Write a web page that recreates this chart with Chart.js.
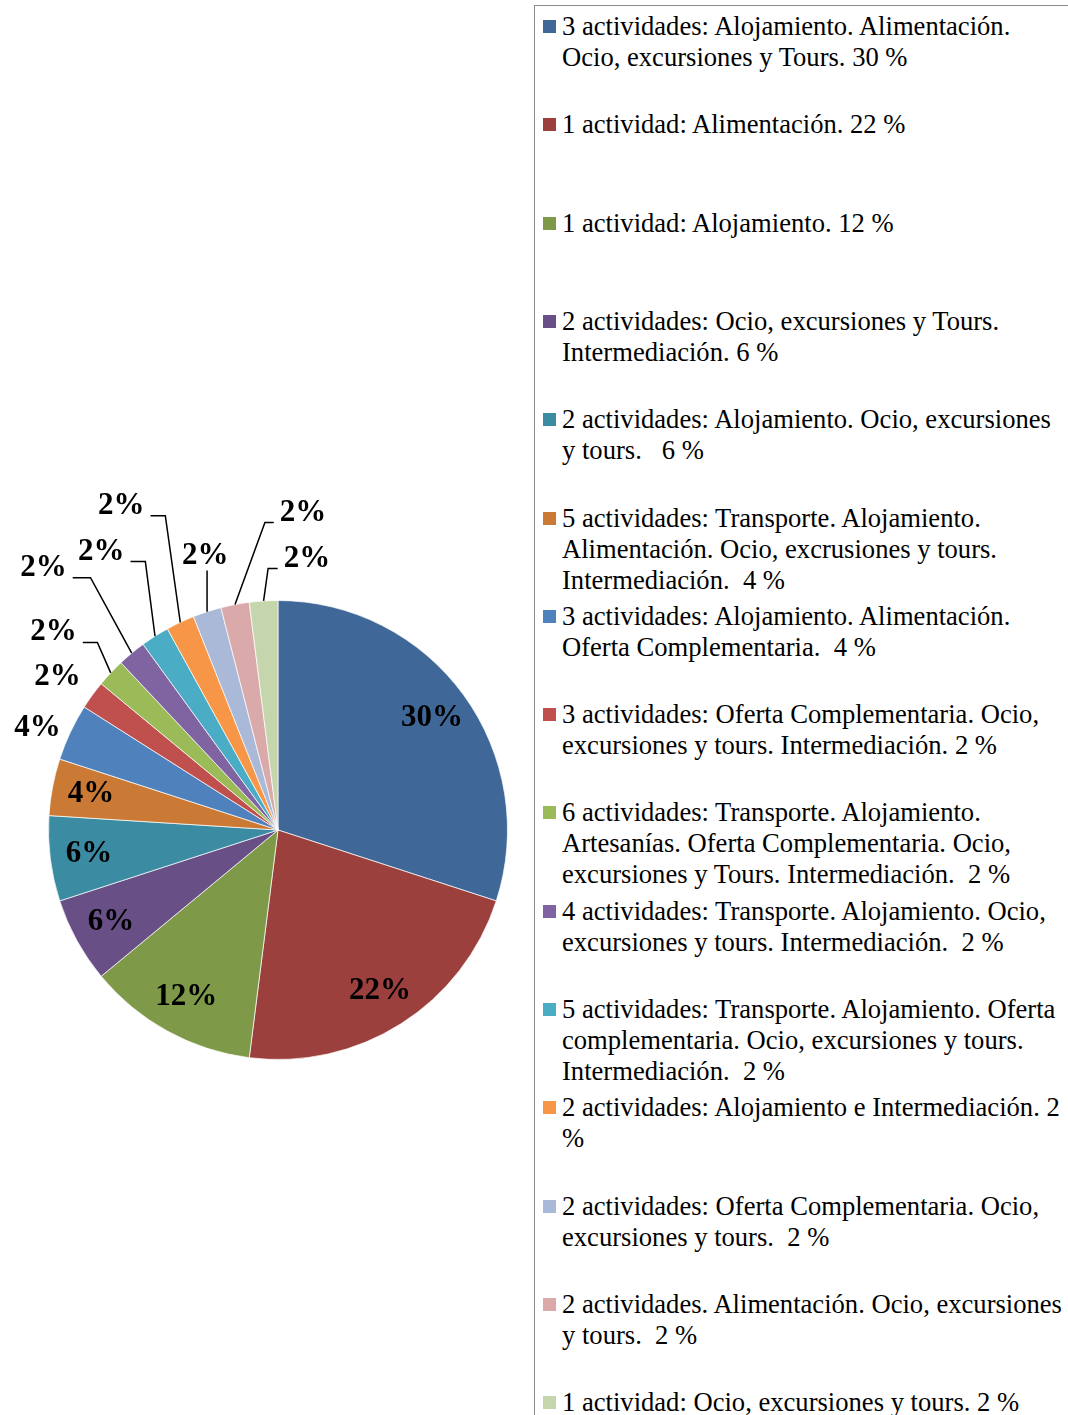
<!DOCTYPE html>
<html>
<head>
<meta charset="utf-8">
<script src="https://cdn.jsdelivr.net/npm/chart.js@4.4.0/dist/chart.umd.min.js"></script>
<style>
  html, body { margin: 0; padding: 0; background: #fff; }
  body { width: 1068px; height: 1415px; position: relative; overflow: hidden; font-family: "Liberation Serif", "Times New Roman", serif; }
  #pieBox { position: absolute; left: 0; top: 480px; width: 534px; height: 600px; }
  #legend { position: absolute; left: 534px; top: 5px; width: 580px; height: 1460px; border: 1px solid #8c8c8c; box-sizing: border-box; }
  .leg-item { position: absolute; left: 0; right: 0; }
  .leg-box { position: absolute; left: 8px; top: 9px; width: 13px; height: 13px; }
  .leg-text { position: absolute; left: 27px; top: 0; font-size: 26.6px; line-height: 31px; color: #000; white-space: pre; }
</style>
</head>
<body>
<div id="pieBox"><canvas id="pie"></canvas></div>
<div id="legend"></div>
<script>
// categories (legend lines as in the original wrapping)
const categories = [
  ['3 actividades: Alojamiento. Alimentación.', 'Ocio, excursiones y Tours. 30 %'],
  ['1 actividad: Alimentación. 22 %'],
  ['1 actividad: Alojamiento. 12 %'],
  ['2 actividades: Ocio, excursiones y Tours.', 'Intermediación. 6 %'],
  ['2 actividades: Alojamiento. Ocio, excursiones', 'y tours.   6 %'],
  ['5 actividades: Transporte. Alojamiento.', 'Alimentación. Ocio, excrusiones y tours.', 'Intermediación.  4 %'],
  ['3 actividades: Alojamiento. Alimentación.', 'Oferta Complementaria.  4 %'],
  ['3 actividades: Oferta Complementaria. Ocio,', 'excursiones y tours. Intermediación. 2 %'],
  ['6 actividades: Transporte. Alojamiento.', 'Artesanías. Oferta Complementaria. Ocio,', 'excursiones y Tours. Intermediación.  2 %'],
  ['4 actividades: Transporte. Alojamiento. Ocio,', 'excursiones y tours. Intermediación.  2 %'],
  ['5 actividades: Transporte. Alojamiento. Oferta', 'complementaria. Ocio, excursiones y tours.', 'Intermediación.  2 %'],
  ['2 actividades: Alojamiento e Intermediación. 2', '%'],
  ['2 actividades: Oferta Complementaria. Ocio,', 'excursiones y tours.  2 %'],
  ['2 actividades. Alimentación. Ocio, excursiones', 'y tours.  2 %'],
  ['1 actividad: Ocio, excursiones y tours. 2 %']
];
const shares = [30, 22, 12, 6, 6, 4, 4, 2, 2, 2, 2, 2, 2, 2, 2];
const pctLabels = ['30%', '22%', '12%', '6%', '6%', '4%', '4%', '2%', '2%', '2%', '2%', '2%', '2%', '2%', '2%'];
const sliceColors = ['#3F6899', '#9C403D', '#7E9A48', '#684F86', '#3B8BA2', '#CB7A35', '#4F81BD',
  '#C0504D', '#9BBB59', '#8064A2', '#4BACC6', '#F79646', '#AAB9D7', '#D9AAA9', '#C6D6AC'];

// where the outside labels sit, in radius units from the centre (ex = leader elbow x)
const outsideSpots = {
  6: { dx: -1.048, dy: -0.443 },
  7: { dx: -0.961, dy: -0.665 },
  8: { dx: -0.978, dy: -0.861, ex: -0.787 },
  9: { dx: -1.022, dy: -1.143, ex: -0.817 },
  10: { dx: -0.770, dy: -1.213, ex: -0.578 },
  11: { dx: -0.683, dy: -1.413, ex: -0.491 },
  12: { dx: -0.317, dy: -1.196, ex: -0.309 },
  13: { dx: 0.109, dy: -1.383, ex: -0.057 },
  14: { dx: 0.126, dy: -1.183, ex: -0.043 }
};

const pieLabels = {
  id: 'pieLabels',
  afterDatasetsDraw(chart) {
    const ctx = chart.ctx;
    const arcs = chart.getDatasetMeta(0).data;
    ctx.save();
    ctx.font = 'bold 31px "Liberation Serif", "Times New Roman", serif';
    ctx.fillStyle = '#000';
    ctx.strokeStyle = '#000';
    ctx.lineWidth = 1.5;
    ctx.textAlign = 'center';
    ctx.textBaseline = 'middle';
    arcs.forEach((arc, i) => {
      const { x, y, startAngle, endAngle, outerRadius: r } = arc.getProps(['x', 'y', 'startAngle', 'endAngle', 'outerRadius'], true);
      const mid = (startAngle + endAngle) / 2;
      const spot = outsideSpots[i];
      if (!spot) {
        ctx.fillText(pctLabels[i], x + Math.cos(mid) * r * 0.83, y + Math.sin(mid) * r * 0.83);
        return;
      }
      const lx = x + spot.dx * r, ly = y + spot.dy * r;
      ctx.fillText(pctLabels[i], lx, ly);
      if (spot.ex === undefined) return;
      const tw = ctx.measureText(pctLabels[i]).width;
      const px = x + Math.cos(mid) * r, py = y + Math.sin(mid) * r;
      const exx = x + spot.ex * r;
      ctx.beginPath();
      if (exx > lx - tw / 2 && exx < lx + tw / 2) {
        ctx.moveTo(exx, ly + 15);
        ctx.lineTo(px, py);
      } else {
        const sx = exx > lx ? lx + tw / 2 + 6 : lx - tw / 2 - 6;
        ctx.moveTo(sx, ly + 10);
        ctx.lineTo(exx, ly + 10);
        ctx.lineTo(px, py);
      }
      ctx.stroke();
    });
    ctx.restore();
  }
};

const chart = new Chart(document.getElementById('pie'), {
  type: 'pie',
  data: {
    labels: categories,
    datasets: [{ data: shares, backgroundColor: sliceColors, borderColor: 'rgba(255,255,255,0.7)', borderWidth: 1 }]
  },
  options: {
    responsive: true, maintainAspectRatio: false, animation: false,
    layout: { padding: { left: 48, right: 26, top: 120, bottom: 20 } },
    plugins: { legend: { display: false }, tooltip: { enabled: false } }
  },
  plugins: [pieLabels]
});

// HTML legend built from the chart data
const legend = document.getElementById('legend');
chart.data.labels.forEach((lines, i) => {
  const item = document.createElement('div');
  item.className = 'leg-item';
  item.style.top = (5 + i * 98.3) + 'px';
  const box = document.createElement('div');
  box.className = 'leg-box';
  box.style.background = chart.data.datasets[0].backgroundColor[i];
  const txt = document.createElement('div');
  txt.className = 'leg-text';
  txt.textContent = lines.join('\n');
  item.appendChild(box);
  item.appendChild(txt);
  legend.appendChild(item);
});
</script>
</body>
</html>
